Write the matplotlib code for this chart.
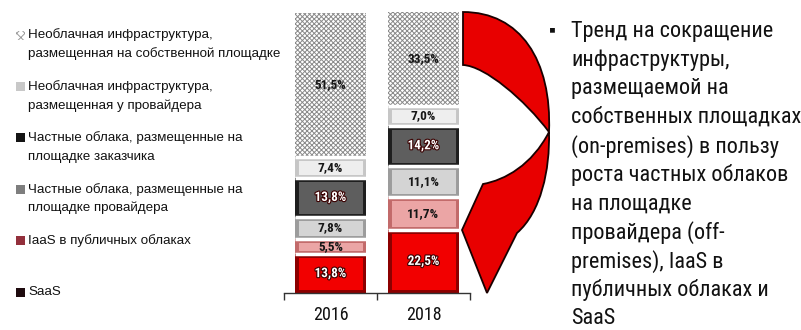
import os
import matplotlib
matplotlib.use("Agg")
import numpy as np
import matplotlib.pyplot as plt
from matplotlib import font_manager as fm
from matplotlib.font_manager import FontProperties
from matplotlib.patches import Rectangle, PathPatch
from matplotlib.path import Path
from matplotlib.transforms import Affine2D
import matplotlib.patheffects as pe

# ---- data -------------------------------------------------------------
years = ["2016", "2018"]
# stacking order: bottom -> top
segments = [
    ["SaaS"],
    ["IaaS в публичных облаках"],
    ["Частные облака, размещенные на", "площадке провайдера"],
    ["Частные облака, размещенные на", "площадке заказчика"],
    ["Необлачная инфраструктура,", "размещенная у провайдера"],
    ["Необлачная инфраструктура,", "размещенная на собственной площадке"],
]
share_2016 = [13.8, 5.5, 7.8, 13.8, 7.4, 51.5]
share_2018 = [22.5, 11.7, 11.1, 14.2, 7.0, 33.5]
trend_lines = [
    "Тренд на сокращение",
    "инфраструктуры,",
    "размещаемой на",
    "собственных площадках",
    "(on-premises) в пользу",
    "роста частных облаков",
    "на площадке",
    "провайдера (off-",
    "premises), IaaS в",
    "публичных облаках и",
    "SaaS",
]

# ---- fonts: look for a narrow sans face, else fall back to Liberation Sans
files = [f.fname for f in fm.fontManager.ttflist]


def find_face(keys):
    for key in keys:
        for fn in files:
            if os.path.basename(fn).lower().startswith(key):
                return fn
    return None


narrow_regular = find_face(["liberationsansnarrow-regular", "arialn.", "robotocondensed-regular",
                            "notosans-condensed.", "opensans-condensed.", "opensans_condensed-regular",
                            "dejavusanscondensed."])
narrow_bold = find_face(["liberationsansnarrow-bold.", "arialnb", "robotocondensed-bold.",
                         "notosans-condensedbold", "opensans-condensedbold", "opensans_condensed-bold",
                         "dejavusanscondensed-bold."])

if narrow_regular:
    FP_TEXT = FontProperties(fname=narrow_regular)
    TEXT_SIZE = 16
else:
    FP_TEXT = FontProperties(family="Liberation Sans")
    TEXT_SIZE = 14
if narrow_bold:
    FP_BOLD = FontProperties(fname=narrow_bold)
else:
    FP_BOLD = FontProperties(family="Liberation Sans", weight="bold")

# ---- styles -----------------------------------------------------------
fills = ["#f20000", "#eba5a5", "#d4d4d4", "#5e5e5e", "#eeeeee", "white"]
edges = ["#8c0000", "#c26a6a", "#9c9c9c", "#1e1e1e", "#c6c6c6", "#8a8a8a"]
label_colors = ["white", "#161616", "#161616", "white", "#161616", "#161616"]
legend_marks = ["#1e0a0e", "#93303c", "#7e7e7e", "#141414", "#c8c8c8", None]

W, H = 801, 330
fig = plt.figure(figsize=(W / 100, H / 100), dpi=100)
fig.patch.set_facecolor("white")
# pixel-space transform (origin top-left)
px = Affine2D().scale(1 / W, -1 / H).translate(0, 1) + fig.transFigure

plt.rcParams["hatch.linewidth"] = 0.7

ax = fig.add_axes([284 / W, 1 - 293 / H, 186 / W, 281 / H])
x = np.arange(len(years))
width = 0.755
data = np.array([share_2016, share_2018])
bottom = np.zeros(len(years))

for k in range(len(segments)):
    vals = data[:, k]
    if fills[k] == "white":
        bars = ax.bar(x, vals, width, bottom=bottom, color="white",
                      edgecolor=edges[k], hatch="xxxxxxx", linewidth=0, zorder=2)
    else:
        bars = ax.bar(x, vals, width, bottom=bottom, color=fills[k],
                      edgecolor=edges[k], linewidth=5, zorder=2)
        for b in bars:
            b.set_clip_path(b)
    for xi, v, b0 in zip(x, vals, bottom):
        txt = ax.text(xi, b0 + v / 2, f"{v:.1f}%".replace(".", ","),
                      ha="center", va="center", fontproperties=FP_BOLD,
                      fontsize=9.5, color=label_colors[k], zorder=5)
        if label_colors[k] == "white":
            txt.set_path_effects([pe.withStroke(linewidth=1.6, foreground="#3a0000")])
    bottom = bottom + vals

# white gaps between stacked segments
tops = np.cumsum(data, axis=1)
for xi in x:
    ax.hlines(tops[xi, :-1], xi - width / 2, xi + width / 2, color="white",
              linewidth=2.5, zorder=4)

ax.set_xlim(-0.5, len(years) - 0.5)
ax.set_ylim(0, 100)
for s in ["top", "right", "left"]:
    ax.spines[s].set_visible(False)
ax.spines["bottom"].set_color("#333333")
ax.spines["bottom"].set_linewidth(1.0)
ax.set_yticks([])
ax.set_xticks(np.arange(len(years) + 1) - 0.5)
ax.set_xticklabels([])
ax.tick_params(axis="x", which="major", length=5, width=1, color="#333333", direction="out")
ax.set_xticks(x, minor=True)
ax.set_xticklabels(years, minor=True, fontproperties=FP_TEXT, fontsize=13, color="#111111")
ax.tick_params(axis="x", which="minor", length=0, pad=9)
ax.set_facecolor("none")

# ---- legend (top item = top segment) ----------------------------------
for i, k in enumerate(range(len(segments) - 1, -1, -1)):
    y0 = 35 + i * 51.4
    if legend_marks[k] is None:
        m = Rectangle((16, y0 + 4.5), 9, -9, transform=px, facecolor="white",
                      edgecolor="#9a9a9a", hatch="xxxx", linewidth=0)
    else:
        m = Rectangle((16, y0 + 4.5), 9, -9, transform=px, facecolor=legend_marks[k],
                      edgecolor="none")
    fig.add_artist(m)
    for j, line in enumerate(segments[k]):
        fig.text(28, y0 + j * 19, line, transform=px, ha="left", va="center",
                 fontsize=9.6, family="Liberation Sans", color="#111111")

# ---- curved arrow -----------------------------------------------------
top_band = Path(
    [(463, 12), (520, 12), (552, 60), (549, 132),
     (525, 100), (485, 66), (463, 65), (463, 12)],
    [Path.MOVETO, Path.CURVE4, Path.CURVE4, Path.CURVE4,
     Path.CURVE4, Path.CURVE4, Path.CURVE4, Path.CLOSEPOLY])
lower_band = Path(
    [(549, 132), (550, 170), (541, 212), (517, 233),
     (487, 293), (462, 230), (483, 184),
     (505, 180), (532, 165), (549, 132), (549, 132)],
    [Path.MOVETO, Path.CURVE4, Path.CURVE4, Path.CURVE4,
     Path.LINETO, Path.LINETO, Path.LINETO,
     Path.CURVE4, Path.CURVE4, Path.CURVE4, Path.CLOSEPOLY])
for p in (top_band, lower_band):
    fig.add_artist(PathPatch(p, transform=px, facecolor="#e80000",
                             edgecolor="#1a0000", linewidth=1.3, joinstyle="miter"))

# ---- trend commentary -------------------------------------------------
fig.text(552, 31, "▪", transform=px, ha="center", va="center", fontsize=14,
         family=["Liberation Sans", "DejaVu Sans"], color="#111111")
for i, line in enumerate(trend_lines):
    fig.text(571, 31 + i * 28.8, line, transform=px, ha="left", va="center",
             fontproperties=FP_TEXT, fontsize=TEXT_SIZE, color="#111111")

fig.savefig("out.png", dpi=100, facecolor="white")
